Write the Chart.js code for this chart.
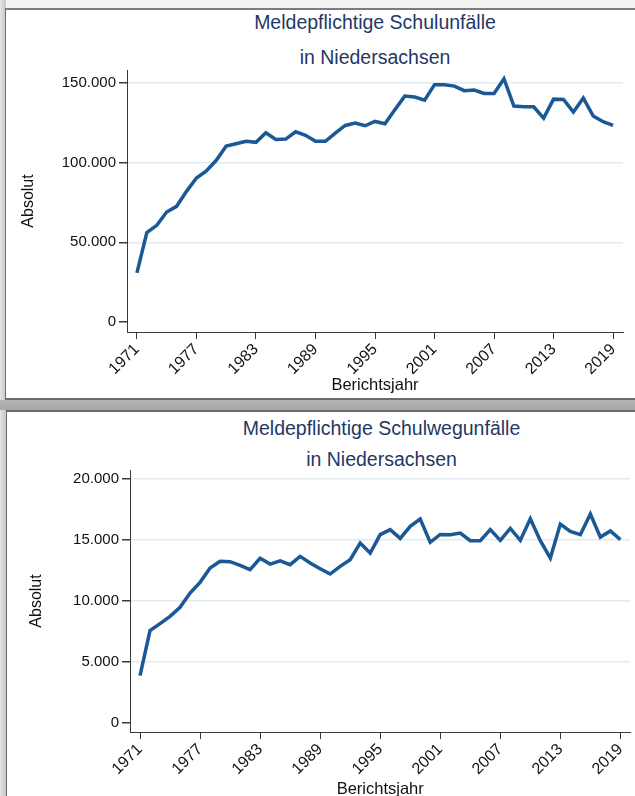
<!DOCTYPE html>
<html>
<head>
<meta charset="utf-8">
<script src="https://cdn.jsdelivr.net/npm/chart.js@4.4.1/dist/chart.umd.min.js"></script>
<style>
  body { margin: 0; background: #f3f3f3; width: 635px; height: 796px; overflow: hidden; position: relative; font-family: "Liberation Sans", Arial, sans-serif; }
  .streifen { position: absolute; left: 0; top: 0; width: 6px; height: 796px; background: linear-gradient(to right, #e4e4e4, #c6c6c6); }
  .panel { position: absolute; background: #fff; border-left: 1px solid #6c6c6c; }
  #panel1 { left: 5px; top: 8px; width: 640px; height: 388px; border-top: 2px solid #7c7c7c; border-bottom: 2px solid #6a6a6a; }
  #band { position: absolute; left: 0; top: 400px; width: 635px; height: 10px; background: linear-gradient(#b6b6b6, #a6a6a6); }
  #panel2 { left: 6px; top: 410px; width: 640px; height: 400px; border-top: 2px solid #6a6a6a; }
  canvas { position: absolute; left: 0; }
  .titel { position: absolute; text-align: center; color: #1f3866; font-size: 19.5px; line-height: 22px; white-space: nowrap; }
</style>
</head>
<body>
<div class="streifen"></div>
<div class="panel" id="panel1"></div>
<div id="band"></div>
<div class="panel" id="panel2"></div>

<div class="titel" style="left:127px;width:496px;top:11px">Meldepflichtige Schulunfälle</div>
<div class="titel" style="left:127px;width:496px;top:46px">in Niedersachsen</div>
<div class="titel" style="left:130px;width:503px;top:417px">Meldepflichtige Schulwegunfälle</div>
<div class="titel" style="left:130px;width:503px;top:448px">in Niedersachsen</div>

<canvas id="chart1" width="635" height="398" style="top:0"></canvas>
<canvas id="chart2" width="635" height="400" style="top:411px"></canvas>

<script>
var jahre = [1971, 1972, 1973, 1974, 1975, 1976, 1977, 1978, 1979, 1980,
             1981, 1982, 1983, 1984, 1985, 1986, 1987, 1988, 1989, 1990,
             1991, 1992, 1993, 1994, 1995, 1996, 1997, 1998, 1999, 2000,
             2001, 2002, 2003, 2004, 2005, 2006, 2007, 2008, 2009, 2010,
             2011, 2012, 2013, 2014, 2015, 2016, 2017, 2018, 2019];

var schulunfaelle = [30800, 56100, 60700, 69000, 72600, 82000, 90400, 94800, 101500, 110500,
                     111900, 113400, 112800, 118800, 114600, 114800, 119400, 117200, 113400, 113400,
                     118600, 123400, 124900, 123200, 125900, 124500, 133300, 141800, 141200, 139300,
                     149000, 149000, 148100, 145200, 145600, 143500, 143500, 152700, 135600, 135100,
                     135100, 128000, 139900, 139700, 131800, 140600, 129300, 125700, 123400];

var schulwegunfaelle = [3880, 7570, 8140, 8740, 9480, 10650, 11530, 12700, 13250, 13220,
                        12920, 12570, 13500, 13030, 13300, 12980, 13660, 13110, 12650, 12210,
                        12840, 13390, 14750, 13930, 15440, 15850, 15130, 16120, 16720, 14810,
                        15460, 15440, 15570, 14940, 14940, 15850, 14970, 15950, 14970, 16750,
                        14940, 13520, 16310, 15710, 15440, 17130, 15240, 15740, 15030];

var xTickJahre = [1971, 1977, 1983, 1989, 1995, 2001, 2007, 2013, 2019];
var yTicksSchul = [0, 50000, 100000, 150000];
var yTicksWeg = [0, 5000, 10000, 15000, 20000];

var linienFarbe = '#1a5896';
var gitterFarbe = '#e0ebee';
var achsenFarbe = '#3a3a3a';

function tausender(v) {
    return String(v).replace(/\B(?=(\d{3})+(?!\d))/g, '.');
}

function zeichne(id, werte, yTicks, yMin, yMax, opt) {
    var punkte = [];
    for (var i = 0; i < jahre.length; i++) {
        punkte.push({x: jahre[i], y: werte[i]});
    }
    return new Chart(document.getElementById(id), {
        type: 'line',
        data: {
            datasets: [{
                data: punkte,
                borderColor: linienFarbe,
                borderWidth: 3.5,
                pointRadius: 0,
                tension: 0,
                fill: false
            }]
        },
        options: {
            responsive: false,
            animation: false,
            events: [],
            layout: { padding: opt.padding },
            plugins: { legend: { display: false }, title: { display: false }, tooltip: { enabled: false } },
            scales: {
                x: {
                    type: 'linear',
                    min: 1970,
                    max: 2020,
                    afterBuildTicks: function (s) { s.ticks = xTickJahre.map(function (j) { return {value: j}; }); },
                    afterFit: function (s) { s.height = opt.xHoehe; },
                    grid: { drawOnChartArea: false, drawTicks: true, tickLength: 7, tickColor: achsenFarbe },
                    border: { display: true, color: achsenFarbe, width: 1 },
                    ticks: {
                        autoSkip: false, minRotation: 45, maxRotation: 45, padding: 1,
                        color: '#111', font: { family: 'Liberation Sans', size: 16 },
                        callback: function (v) { return String(v); }
                    },
                    title: {
                        display: true, text: 'Berichtsjahr', color: '#111',
                        font: { family: 'Liberation Sans', size: 16.5 },
                        padding: { top: 0, bottom: opt.xTitelUnten }
                    }
                },
                y: {
                    type: 'linear',
                    min: yMin,
                    max: yMax,
                    afterBuildTicks: function (s) { s.ticks = yTicks.map(function (v) { return {value: v}; }); },
                    afterFit: function (s) { s.width = opt.yBreite; },
                    grid: {
                        color: function (c) { return c.tick && c.tick.value === 0 ? 'rgba(0,0,0,0)' : gitterFarbe; },
                        lineWidth: 1.5,
                        tickLength: 8,
                        tickColor: achsenFarbe
                    },
                    border: { display: true, color: achsenFarbe, width: 1 },
                    ticks: {
                        padding: 3, color: '#111', font: { family: 'Liberation Sans', size: 15 },
                        callback: function (v) { return tausender(v); }
                    },
                    title: {
                        display: true, text: 'Absolut', color: '#111',
                        font: { family: 'Liberation Sans', size: 16 },
                        padding: { top: opt.yTitelLinks, bottom: 0 }
                    }
                }
            }
        }
    });
}

zeichne('chart1', schulunfaelle, yTicksSchul, -6300, 158200, {
    padding: { left: 6, right: 12, top: 70, bottom: 0 },
    yBreite: 121, xHoehe: 66, xTitelUnten: 3, yTitelLinks: 13
});

zeichne('chart2', schulwegunfaelle, yTicksWeg, -740, 20740, {
    padding: { left: 7, right: 2, top: 59, bottom: 0 },
    yBreite: 123, xHoehe: 79, xTitelUnten: 12, yTitelLinks: 20
});
</script>
</body>
</html>
